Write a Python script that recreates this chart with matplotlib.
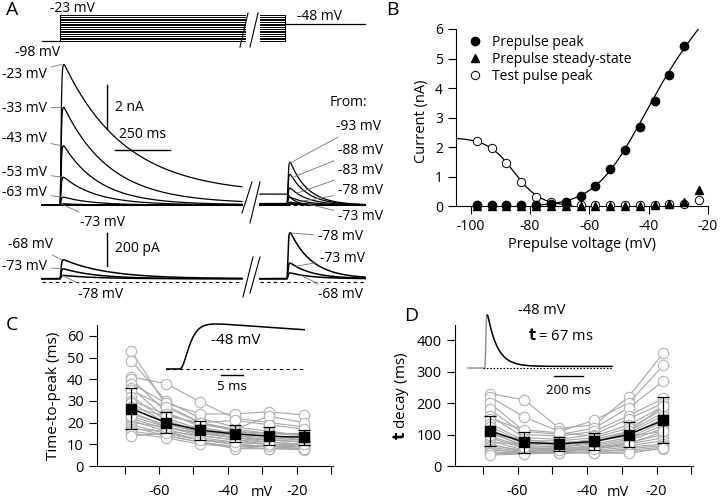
import matplotlib
matplotlib.use("Agg")
import matplotlib.pyplot as plt
import numpy as np
from matplotlib.lines import Line2D

plt.rcParams["font.family"] = ["Open Sans", "DejaVu Sans"]
plt.rcParams["font.size"] = 10
plt.rcParams["axes.unicode_minus"] = False

W, H = 720, 501

# ---------------------------------------------------------------------
# Data
# ---------------------------------------------------------------------
# A: voltage protocol (mV)
hold_mv = -98
prepulse_levels = [-98, -93, -88, -83, -78, -73, -68, -63, -58, -53, -48, -43, -38, -33, -28, -23]
test_mv = -48

# A top: sweeps (nA)
sweep_mv = [-93, -88, -83, -78, -73, -63, -53, -43, -33, -23]
sweep_pre_peak = [0.0, 0.0, 0.0, 0.02, 0.06, 0.36, 1.27, 2.7, 4.45, 6.4]
sweep_pre_tau = [100, 100, 100, 100, 100, 130, 150, 165, 210, 280]
sweep_pre_ss = [0.0, 0.0, 0.0, 0.0, 0.0, 0.0, 0.01, 0.02, 0.07, 0.5]
sweep_test_peak = [1.95, 1.4, 0.77, 0.35, 0.13, 0.04, 0.04, 0.04, 0.05, 0.05]
test_tau = 80

# A bottom: small sweeps (pA)
small_mv = [-78, -73, -68]
small_pre_peak = [40, 80, 135]
small_pre_tau = [150, 150, 200]
small_test_peak = [300, 115, 55]
small_offset = 20

# B: peak currents (nA)
b_volt = [-98, -93, -88, -83, -78, -73, -68, -63, -58, -53, -48, -43, -38, -33, -28]
b_pre_peak = [0.03, 0.02, 0.02, 0.02, 0.04, 0.06, 0.15, 0.33, 0.68, 1.25, 1.9, 2.68, 3.55, 4.45, 5.42]
b_ss_volt = [-98, -93, -88, -83, -78, -73, -68, -63, -58, -53, -48, -43, -38, -33, -28, -23]
b_ss = [0.0, 0.0, 0.0, 0.0, 0.0, 0.0, 0.0, 0.0, 0.0, 0.0, 0.0, 0.0, 0.02, 0.07, 0.12, 0.55]
b_test_peak = [2.2, 1.95, 1.45, 0.8, 0.3, 0.12, 0.07, 0.05, 0.05, 0.05, 0.05, 0.05, 0.05, 0.06, 0.08, 0.2]
# fits
inact_imax, inact_vh, inact_k = 2.32, -85.5, 4.5
act_g, act_erev, act_vh, act_k = 0.095, -90, -47.5, 8.5

# C/D: per-cell values at test voltages
cd_volt = [-68, -58, -48, -38, -28, -18]
ttp_cells = [
    [53, 28, 20, 16, 14, 13],
    [48.5, 30, 22, 18, 16, 14],
    [41, 38, 29.5, 22, 20, 18],
    [40, 25, 18, 15, 14, 12],
    [38, 29, 24, 24, 25, 23.5],
    [36, 22, 17, 14, 13, 12],
    [35, 27, 20, 17, 23, 20],
    [32, 21, 16, 13, 12, 11],
    [30, 24, 19, 17, 15, 15],
    [29, 20, 15, 13, 11, 10],
    [27, 23, 20, 21, 19, 17],
    [25, 18, 14, 12, 10, 9],
    [24, 19, 16, 14, 12, 11],
    [22, 17, 13, 11, 10, 9],
    [21, 16, 12, 10, 9, 8],
    [20, 18, 15, 13, 12, 12],
    [19, 15, 12, 10, 9, 9],
    [18, 14, 11, 9, 8, 8],
    [17, 16, 14, 12, 11, 10],
    [16, 14, 11, 8, 8, 7.5],
    [15, 13, 10, 9, 9, 8],
    [14, 15, 12, 11, 10, 10],
    [26, 20, 17, 15, 14, 13],
    [23, 18, 15, 16, 15, 14],
]
ttp_mean = [26.5, 20, 16.5, 14.8, 13.7, 13.3]
ttp_sd = [9.3, 5.0, 4.3, 3.9, 4.2, 3.5]

tau_cells = [
    [230, 210, 120, 130, 220, 360],
    [220, 155, 110, 145, 200, 320],
    [200, 110, 100, 120, 185, 270],
    [180, 100, 95, 110, 160, 215],
    [160, 90, 85, 100, 150, 200],
    [150, 115, 105, 95, 130, 190],
    [135, 80, 80, 90, 120, 180],
    [125, 75, 70, 85, 110, 170],
    [115, 70, 65, 80, 105, 160],
    [105, 65, 60, 75, 100, 150],
    [95, 60, 60, 70, 90, 140],
    [90, 55, 55, 65, 85, 130],
    [80, 50, 50, 60, 80, 120],
    [75, 70, 75, 80, 95, 110],
    [70, 45, 45, 55, 75, 100],
    [65, 50, 55, 60, 70, 90],
    [60, 45, 50, 55, 65, 80],
    [55, 40, 45, 50, 60, 70],
    [50, 45, 40, 45, 55, 65],
    [45, 40, 40, 45, 50, 60],
    [40, 40, 45, 40, 45, 55],
    [35, 38, 42, 42, 40, 58],
    [110, 60, 50, 55, 70, 110],
    [100, 85, 70, 75, 110, 190],
]
tau_mean = [112, 75, 70, 78, 100, 145]
tau_sd = [48, 33, 22, 26, 40, 73]

# insets (normalised current)
c_inset_onset, c_inset_rise, c_inset_decay = 3.0, 1.5, 136.0
d_inset_rise, d_inset_tau, d_inset_tail = 4.0, 67.0, 0.03


# ---------------------------------------------------------------------
# helpers
# ---------------------------------------------------------------------
def box(l, t, r, b):
    return [l / W, 1 - b / H, (r - l) / W, (b - t) / H]


def fpx(x, y):
    return (x, H - y)


def pix_line(fig, x1, y1, x2, y2, **kw):
    fig.add_artist(Line2D([x1 / W, x2 / W], [1 - y1 / H, 1 - y2 / H],
                          transform=fig.transFigure, **kw))


def kinetic(t, amp, tau, rise):
    tt = np.clip(t, 0, None)
    y = (1 - np.exp(-tt / rise)) ** 3 * np.exp(-tt / tau)
    g = np.linspace(0, 5 * tau, 5000)
    ymax = ((1 - np.exp(-g / rise)) ** 3 * np.exp(-g / tau)).max()
    return amp * y / ymax


def clean(ax):
    for s in ax.spines.values():
        s.set_visible(False)
    ax.set_xticks([])
    ax.set_yticks([])
    ax.patch.set_alpha(0)


fig = plt.figure(figsize=(W / 100, H / 100), dpi=100)

# time grids for panel A (display units: ms, 0.22 px per ms)
t_left = np.linspace(-82, 827, 3000)
s_right = np.linspace(-123, 355, 2000)
test_at = 1032
rise_a = 3.0
a_xlim = (-273, 1455)

# ---------------------------------------------------------------------
# A: protocol
# ---------------------------------------------------------------------
axp = fig.add_axes(box(0, 5, 380, 55))
clean(axp)
axp.set_xlim(*a_xlim)
axp.set_ylim(-138, 6)
axp.plot([-82, 0], [hold_mv, hold_mv], color="k", lw=0.9)
for v in prepulse_levels:
    axp.plot([0, 840], [v, v], color="k", lw=0.7)
    axp.plot([909, test_at - 10], [v, v], color="k", lw=0.7)
axp.plot([0, 0], [min(prepulse_levels), max(prepulse_levels)], color="k", lw=0.8)
axp.plot([test_at - 10] * 2, [min(prepulse_levels), max(prepulse_levels)], color="k", lw=0.8)
axp.plot([test_at - 10, 1386], [test_mv, test_mv], color="k", lw=0.9)

fig.text(50 / W, 1 - 9 / H, "-23 mV", ha="left", va="center")
fig.text(15 / W, 1 - 52 / H, "-98 mV", ha="left", va="center")
fig.text(297 / W, 1 - 16 / H, "-48 mV", ha="left", va="center")

# ---------------------------------------------------------------------
# A: large currents
# ---------------------------------------------------------------------
axa = fig.add_axes(box(0, 60, 380, 222))
clean(axa)
axa.set_xlim(*a_xlim)
axa.set_ylim(-0.77, 6.6)
axa.plot([-82, 827], [0, 0], color="k", lw=0.8, ls=(0, (3, 3)))
axa.plot([909, 1386], [0, 0], color="k", lw=0.8, ls=(0, (3, 3)))

for v, pk, tau, ss, tp in zip(sweep_mv, sweep_pre_peak, sweep_pre_tau, sweep_pre_ss, sweep_test_peak):
    act = (1 - np.exp(-np.clip(t_left, 0, None) / rise_a)) ** 3
    y_left = kinetic(t_left, pk - ss, tau, rise_a) + ss * act
    axa.plot(t_left, y_left, color="k", lw=0.9)
    y_right = np.where(s_right < 0, ss,
                       kinetic(s_right, tp, test_tau, rise_a) + ss * np.exp(-np.clip(s_right, 0, None) / 30))
    axa.plot(test_at + s_right, y_right, color="k", lw=0.9)

# scale bars
axa.plot([214, 214], [3.45, 5.45], color="k", lw=1)
axa.text(250, 4.45, "2 nA", ha="left", va="center")
axa.plot([250, 500], [2.5, 2.5], color="k", lw=1)
axa.text(375, 2.85, "250 ms", ha="center", va="bottom")

lead = dict(arrowstyle="-", color="0.45", lw=0.6, shrinkA=1, shrinkB=0)
left_pos = {-23: (2, 74), -33: (2, 108), -43: (2, 138), -53: (2, 172), -63: (2, 192)}
for v, pk in zip(sweep_mv, sweep_pre_peak):
    if v in left_pos:
        axa.annotate(f"{v} mV", xy=(6, pk), xycoords="data",
                     xytext=fpx(*left_pos[v]), textcoords="figure pixels",
                     ha="left", va="center", arrowprops=lead)
axa.annotate("-73 mV", xy=(4, 0.06), xytext=fpx(80, 223), textcoords="figure pixels",
             ha="left", va="center", arrowprops=lead)

fig.text(348 / W, 1 - 103 / H, "From:", ha="center", va="center")
right_pos = {-93: (336, 126), -88: (338, 150), -83: (338, 171), -78: (338, 191), -73: (338, 217)}
right_s = {-93: 10, -88: 25, -83: 45, -78: 70, -73: 95}
for v, tp in zip(sweep_mv, sweep_test_peak):
    if v in right_pos:
        s = right_s[v]
        yv = kinetic(np.array([s]), tp, test_tau, rise_a)[0]
        axa.annotate(f"{v} mV", xy=(test_at + s, yv), xycoords="data",
                     xytext=fpx(*right_pos[v]), textcoords="figure pixels",
                     ha="left", va="center", arrowprops=lead)

# ---------------------------------------------------------------------
# A: small currents (pA)
# ---------------------------------------------------------------------
axb = fig.add_axes(box(0, 222, 380, 300))
clean(axb)
axb.set_xlim(*a_xlim)
axb.set_ylim(-109, 364)
axb.plot([-82, 827], [0, 0], color="k", lw=0.8, ls=(0, (3, 3)))
axb.plot([909, 1386], [0, 0], color="k", lw=0.8, ls=(0, (3, 3)))
for v, pk, tau, tp in zip(small_mv, small_pre_peak, small_pre_tau, small_test_peak):
    y_left = small_offset + kinetic(t_left, pk - small_offset, tau, rise_a)
    axb.plot(t_left, y_left, color="k", lw=1.1)
    y_right = small_offset + kinetic(s_right, tp - small_offset, 100, rise_a)
    axb.plot(test_at + s_right, y_right, color="k", lw=1.1)

axb.plot([214, 214], [100, 300], color="k", lw=1)
axb.text(250, 205, "200 pA", ha="left", va="center")

small_left = {-68: (8, 244), -73: (2, 266)}
for v, pk in zip(small_mv, small_pre_peak):
    if v in small_left:
        axb.annotate(f"{v} mV", xy=(8, pk), xycoords="data",
                     xytext=fpx(*small_left[v]), textcoords="figure pixels",
                     ha="left", va="center", arrowprops=lead)
axb.annotate("-78 mV", xy=(10, small_pre_peak[0]), xytext=fpx(78, 294), textcoords="figure pixels",
             ha="left", va="center", arrowprops=lead)
small_right = {-78: (318, 237), -73: (320, 258), -68: (318, 295)}
small_s = {-78: 12, -73: 40, -68: 60}
for v, tp in zip(small_mv, small_test_peak):
    s = small_s[v]
    yv = small_offset + kinetic(np.array([s]), tp - small_offset, 100, rise_a)[0]
    axb.annotate(f"{v} mV", xy=(test_at + s, yv), xycoords="data",
                 xytext=fpx(*small_right[v]), textcoords="figure pixels",
                 ha="left", va="center", arrowprops=lead)

# break marks
for (x1, y1, x2, y2) in [(240, 47, 248, 13), (250, 47, 258, 13),
                         (242, 213, 252, 182), (250, 223, 260, 182),
                         (243, 297, 253, 257), (250, 293, 260, 257)]:
    pix_line(fig, x1, y1, x2, y2, color="k", lw=0.8)

# ---------------------------------------------------------------------
# B
# ---------------------------------------------------------------------
ax = fig.add_axes(box(456, 29, 708, 214))
ax.set_xlim(-105, -20)
ax.set_ylim(-0.27, 6.0)
for s in ("top", "right"):
    ax.spines[s].set_visible(False)
ax.spines["bottom"].set_position(("data", 0))
ax.spines["left"].set_bounds(0, 6)
ax.tick_params(direction="out", length=6, width=0.8, labelsize=10)
ax.set_xticks([-100, -80, -60, -40, -20])
ax.set_yticks(range(0, 7))

v1 = np.linspace(-105, -66, 200)
ax.plot(v1, inact_imax / (1 + np.exp((v1 - inact_vh) / inact_k)), color="k", lw=0.9)
v2 = np.linspace(-76, -20, 200)
ax.plot(v2, act_g * (v2 - act_erev) / (1 + np.exp((act_vh - v2) / act_k)), color="k", lw=0.9)

ax.plot(b_ss_volt, b_test_peak, "o", mfc="white", mec="k", mew=0.7, ms=6,
        clip_on=False, zorder=3, label="Test pulse peak")
ax.plot(b_ss_volt, b_ss, "^", color="k", ms=6, clip_on=False, zorder=4, label="Prepulse steady-state")
ax.plot(b_volt, b_pre_peak, "o", color="k", ms=6, clip_on=False, zorder=5, label="Prepulse peak")
h, l = ax.get_legend_handles_labels()
ax.legend(h[::-1], l[::-1], loc="upper left", bbox_to_anchor=(0.02, 1.0), frameon=False,
          handletextpad=0.6, labelspacing=0.15, borderaxespad=0.0, fontsize=10, handlelength=1.2)
ax.set_xlabel("Prepulse voltage (mV)", fontsize=10.5, labelpad=2)
ax.set_ylabel("Current (nA)", fontsize=10.5, labelpad=4)


# ---------------------------------------------------------------------
# C / D
# ---------------------------------------------------------------------
def summary(ax, cells, mean, sd, ylim, yticks):
    ax.set_xlim(-78, -9.5)
    ax.set_ylim(*ylim)
    for s in ("top", "right"):
        ax.spines[s].set_visible(False)
    for row in cells:
        ax.plot(cd_volt, row, "-o", color="#a6a6a6", lw=0.8, ms=7.5, mfc="white",
                mec="#b4b4b4", mew=0.8, clip_on=False)
    ax.errorbar(cd_volt, mean, yerr=sd, fmt="s-", color="k", ms=7, lw=1,
                elinewidth=0.9, capsize=4, capthick=0.9, zorder=10)
    ax.set_xticks([-60, -40, -20])
    ax.set_xticks([-70, -50, -30, -10], minor=True)
    ax.set_yticks(yticks)
    ax.tick_params(axis="x", which="both", direction="out", length=6, width=0.8, pad=7, labelsize=10.5)
    ax.tick_params(axis="y", direction="out", length=6, width=0.8, labelsize=10.5)


axc = fig.add_axes(box(97, 325, 333, 466))
summary(axc, ttp_cells, ttp_mean, ttp_sd, (0, 65), range(0, 61, 10))
axc.set_ylabel("Time-to-peak (ms)", fontsize=11)
fig.text(262 / W, 1 - 493 / H, "mV", ha="center", va="center", fontsize=10.5)

axd = fig.add_axes(box(455, 325, 693, 466))
summary(axd, tau_cells, tau_mean, tau_sd, (0, 448), range(0, 401, 100))
axd.set_ylabel(r"$\mathbf{t}$ decay (ms)", fontsize=11)
fig.text(618 / W, 1 - 493 / H, "mV", ha="center", va="center", fontsize=10.5)

# C inset
ic = fig.add_axes(box(166, 318, 305, 395))
clean(ic)
ic.set_xlim(0, 31.6)
ic.set_ylim(-0.578, 1.133)
tc = np.linspace(0, 31.6, 600)
yc = kinetic(tc - c_inset_onset, 1.0, c_inset_decay, c_inset_rise)
ic.plot(tc, yc, color="k", lw=1.1)
ic.plot([0, 31.6], [0, 0], color="k", lw=0.8, ls=(0, (3, 3)))
ic.plot([12.5, 17.5], [-0.133, -0.133], color="k", lw=1)
ic.text(15, -0.4, "5 ms", ha="center", va="center", fontsize=9.5)
ic.text(15.9, 0.64, "-48 mV", ha="center", va="center", fontsize=11)

# D inset
idd = fig.add_axes(box(465, 300, 615, 395))
clean(idd)
idd.set_xlim(-138, 896)
idd.set_ylim(-0.509, 1.283)
td = np.linspace(-117, 876, 2000)
yd = kinetic(td, 1.0 - d_inset_tail, d_inset_tau, d_inset_rise) + d_inset_tail * (td > 0)
idd.plot(td, yd, color="0.55", lw=1)
tf = np.linspace(14, 876, 1000)
idd.plot(tf, kinetic(tf, 1.0 - d_inset_tail, d_inset_tau, d_inset_rise) + d_inset_tail, color="k", lw=1)
idd.plot([-14, 876], [0, 0], color="k", lw=0.8, ls=(0, (1.5, 1.5)))
idd.plot([476, 676], [-0.151, -0.151], color="k", lw=1)
idd.text(572, -0.415, "200 ms", ha="center", va="center", fontsize=9.5)
idd.text(393, 1.094, "-48 mV", ha="center", va="center", fontsize=10.5)
idd.text(524, 0.604, r"$\mathbf{t}$ = 67 ms", ha="center", va="center", fontsize=10.5)

# panel letters
for letter, x, y in [("A", 6, 10), ("B", 386, 10), ("C", 6, 325), ("D", 404, 316)]:
    fig.text(x / W, 1 - y / H, letter, fontsize=14, ha="left", va="center")

fig.savefig("out.png", dpi=100)
